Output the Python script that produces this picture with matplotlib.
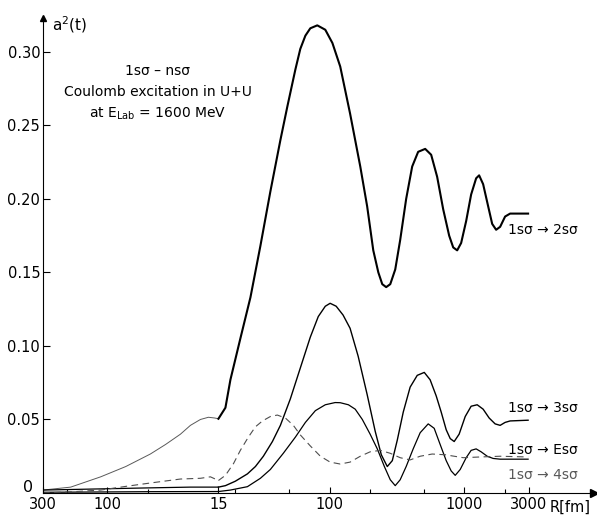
import numpy as np
import matplotlib
matplotlib.use("Agg")
from matplotlib import pyplot as plt

plt.rcParams["font.family"] = ["DejaVu Sans"]

# %%
# R [fm] along the trajectory, a^2(t) values.
# Incoming branch runs 300 fm -> 15 fm (closest approach), outgoing 15 fm -> 3000 fm.
R_MIN = 15.0

r_2s_in = [300, 187, 112, 73, 48, 37, 28.7, 24.2, 20.4, 17.8, 16.0, 15]
a_2s_in = [0.002, 0.004, 0.011, 0.018, 0.0265, 0.033, 0.040, 0.046, 0.050, 0.0515, 0.051, 0.0505]
r_2s_out = [15, 16.9, 18.4, 21.8, 25.9, 30.7, 36.4, 43.2, 48.7, 55.8, 60.7, 66.2, 72.0, 81.1, 93,
            105, 120, 142, 169, 190, 211, 230, 246, 263, 282, 307, 334, 370, 410, 454, 512, 567,
            628, 696, 771, 826, 884, 946, 1031, 1122, 1222, 1286, 1377, 1500, 1607, 1719, 1841,
            2004, 2183, 2967]
a_2s_out = [0.0505, 0.058, 0.077, 0.105, 0.133, 0.168, 0.205, 0.240, 0.263, 0.288, 0.302, 0.311,
            0.316, 0.318, 0.315, 0.306, 0.290, 0.258, 0.222, 0.195, 0.165, 0.150, 0.142, 0.140,
            0.142, 0.152, 0.172, 0.200, 0.222, 0.232, 0.234, 0.230, 0.215, 0.193, 0.175, 0.167,
            0.165, 0.170, 0.185, 0.203, 0.214, 0.216, 0.210, 0.195, 0.183, 0.179, 0.181, 0.188,
            0.190, 0.190]

r_3s_in = [300, 112, 48, 24.2, 15]
a_3s_in = [0.002, 0.0028, 0.0035, 0.004, 0.004]
r_3s_out = [15, 16.9, 20.0, 24.6, 28.2, 32.3, 37.7, 43.2, 51.2, 60.7, 72.0, 82.5, 93, 101, 112,
            126, 142, 163, 190, 218, 242, 268, 292, 318, 352, 396, 447, 504, 557, 618, 673, 733,
            785, 840, 914, 1014, 1122, 1244, 1377, 1526, 1690, 1841, 2004, 2183, 2967]
a_3s_out = [0.004, 0.005, 0.008, 0.013, 0.018, 0.025, 0.035, 0.046, 0.064, 0.085, 0.106, 0.120,
            0.127, 0.129, 0.127, 0.121, 0.112, 0.093, 0.067, 0.042, 0.026, 0.018, 0.022, 0.036,
            0.055, 0.072, 0.080, 0.082, 0.077, 0.066, 0.055, 0.043, 0.037, 0.035, 0.040, 0.052,
            0.059, 0.060, 0.057, 0.051, 0.047, 0.046, 0.048, 0.049, 0.0495]

r_4s_in = [300, 112, 48, 15]
a_4s_in = [0.0005, 0.0007, 0.0009, 0.001]
r_4s_out = [15, 18.4, 24.6, 30.7, 36.4, 45.4, 55.8, 66.2, 78.5, 93, 110, 120, 138, 155, 175, 200,
            226, 255, 282, 307, 334, 370, 417, 470, 539, 597, 661, 733, 798, 855, 931, 1031, 1122,
            1222, 1331, 1476, 1633, 1841, 2967]
a_4s_out = [0.001, 0.002, 0.0043, 0.010, 0.016, 0.027, 0.038, 0.048, 0.056, 0.060, 0.0615, 0.0614,
            0.060, 0.057, 0.050, 0.040, 0.030, 0.018, 0.009, 0.005, 0.009, 0.018, 0.030, 0.041,
            0.047, 0.044, 0.033, 0.022, 0.015, 0.012, 0.016, 0.024, 0.029, 0.030, 0.028, 0.025,
            0.0235, 0.023, 0.023]

r_es_in = [300, 187, 112, 73, 48, 28.7, 20.4, 17.2, 15]
a_es_in = [0.0, 0.0008, 0.002, 0.0045, 0.0068, 0.0095, 0.010, 0.011, 0.0085]
r_es_out = [15, 16.9, 19.4, 21.8, 25.0, 28.2, 31.8, 36.4, 41.0, 47.0, 53.9, 60.7, 72.0, 85.5, 101,
            120, 142, 169, 200, 238, 282, 334, 396, 470, 577, 720, 980, 1310, 1841, 2967]
a_es_out = [0.0085, 0.012, 0.020, 0.029, 0.038, 0.045, 0.049, 0.052, 0.053, 0.051, 0.046, 0.0395,
            0.032, 0.025, 0.021, 0.0197, 0.021, 0.025, 0.028, 0.029, 0.027, 0.024, 0.0225, 0.025,
            0.0265, 0.026, 0.024, 0.0245, 0.025, 0.0245]

tick_r = [300, 100, 15, 100, 1000, 3000]
tick_side = [-1, -1, 1, 1, 1, 1]
tick_labels = ["300", "100", "15", "100", "1000", "3000"]
minor_r = [200, 50, 20, 50, 200, 500, 2000]
minor_side = [-1, -1, 1, 1, 1, 1, 1]
y_ticks = [0.05, 0.10, 0.15, 0.20, 0.25, 0.30]
y_labels = ["0.05", "0.10", "0.15", "0.20", "0.25", "0.30"]


def to_u(r, side):
    # signed log distance from closest approach: negative = incoming
    return side * np.log10(np.asarray(r, dtype=float) / R_MIN)


# %%
fig = plt.figure(figsize=(5.97, 5.18), dpi=100)
ax = fig.add_axes([43 / 597, 25 / 518, 551 / 597, 475 / 518])

ax.plot(to_u(r_2s_in, -1), a_2s_in, color="0.35", lw=0.7)
ax.plot(to_u(r_2s_out, 1), a_2s_out, color="black", lw=1.5)
ax.plot(to_u(r_3s_in, -1), a_3s_in, color="black", lw=0.9)
ax.plot(to_u(r_3s_out, 1), a_3s_out, color="black", lw=1.0)
ax.plot(to_u(r_4s_in, -1), a_4s_in, color="black", lw=0.9)
ax.plot(to_u(r_4s_out, 1), a_4s_out, color="black", lw=0.9)
ax.plot(to_u(r_es_in, -1), a_es_in, color="0.3", lw=0.8, dashes=(6, 4))
ax.plot(to_u(r_es_out, 1), a_es_out, color="0.3", lw=0.8, dashes=(6, 4))

ax.set_xlim(-1.296, 2.785)
ax.set_ylim(0, 0.323)

ax.spines["top"].set_visible(False)
ax.spines["right"].set_visible(False)
ax.plot(1, 0, ">k", ms=6, transform=ax.transAxes, clip_on=False)
ax.plot(0, 1, "^k", ms=5, transform=ax.transAxes, clip_on=False)

ax.set_xticks([float(to_u(r, s)) for r, s in zip(tick_r, tick_side)])
ax.set_xticklabels(tick_labels, fontsize=10.5)
ax.set_xticks([float(to_u(r, s)) for r, s in zip(minor_r, minor_side)], minor=True)
ax.set_yticks(y_ticks)
ax.set_yticklabels(y_labels, fontsize=10.5)
ax.tick_params(axis="both", which="both", direction="in", width=0.8)
ax.tick_params(axis="x", which="major", length=4, pad=3)
ax.tick_params(axis="x", which="minor", length=3)
ax.tick_params(axis="y", length=5, pad=2)

# "0" of the y axis sits just left of the origin, above the "300"
ax.annotate("0", xy=(0, 0), xycoords="axes fraction", xytext=(-7, 4),
            textcoords="offset points", ha="right", va="center", fontsize=11.5)
ax.annotate("R[fm]", xy=(2.607, 0), xycoords=("data", "axes fraction"), xytext=(0, -5),
            textcoords="offset points", ha="center", va="top", fontsize=10.5)
ax.text(0.016, 0.985, "a$^2$(t)", transform=ax.transAxes, ha="left", va="center", fontsize=11)

ax.text(-0.45, 0.272, "1sσ – nsσ\nCoulomb excitation in U+U\nat E$_{\\rm Lab}$ = 1600 MeV",
        ha="center", va="center", fontsize=10, linespacing=1.55)

lab_u = 2.15
ax.text(lab_u, 0.179, "1sσ → 2sσ", ha="left", va="center", fontsize=10)
ax.text(lab_u, 0.058, "1sσ → 3sσ", ha="left", va="center", fontsize=10)
ax.text(lab_u, 0.029, "1sσ → Esσ", ha="left", va="center", fontsize=10)
ax.text(lab_u, 0.012, "1sσ → 4sσ", ha="left", va="center", fontsize=10, color="0.35")

fig.savefig("out.png", dpi=100)
